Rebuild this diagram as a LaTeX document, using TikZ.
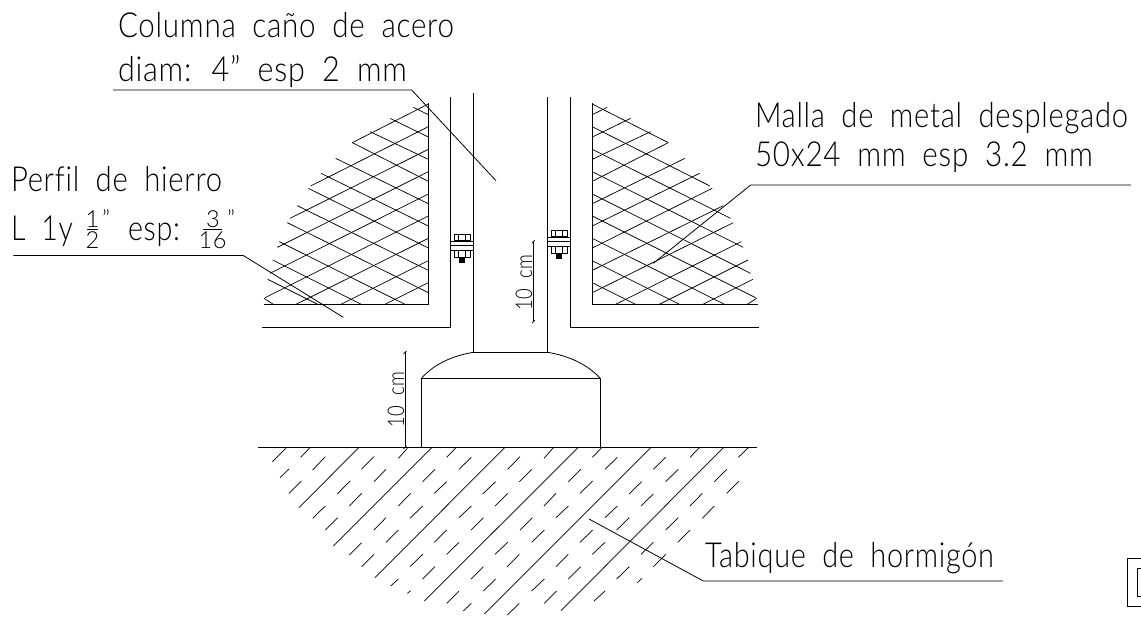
\documentclass[tikz,border=0pt]{standalone}
\usepackage{fontspec}
\usepackage{graphicx}
\newfontfamily\cadfont[LetterSpace=2.5,WordSpace=1.9,Ligatures=NoCommon]{Lato Light}
\newcommand{\cadfit}[2]{\resizebox{#1pt}{\height}{#2}}
\tikzset{
  ink/.style={line width=0.8pt,black,line cap=butt,line join=miter},
  thinink/.style={line width=0.72pt,black},
  cadtext/.style={anchor=base west,inner sep=0pt,outer sep=0pt,font=\cadfont\fontsize{34.5}{34.5}\selectfont},
  cadsmall/.style={anchor=base,inner sep=0pt,outer sep=0pt,font=\cadfont\fontsize{23.5}{24}\selectfont},
  dimtext/.style={anchor=base,inner sep=0pt,outer sep=0pt,rotate=90,font=\cadfont\fontsize{23}{23}\selectfont},
}
\newcommand{\cadbolt}[2]{%
  \begin{scope}[shift={(#1,#2)},ink]
    \draw (-8,-7.2) rectangle (8,-1);
    \draw (-3.5,-7.2) -- (-3.5,-1) (3.5,-7.2) -- (3.5,-1);
    \draw (-11.5,0) rectangle (11.5,4.2);
    \draw (-11.5,8.5) -- (11.5,8.5);
    \draw (-11.5,4.2) -- (-11.5,8.5) (11.5,4.2) -- (11.5,8.5);
    \draw (-8,8.5) rectangle (8,16.2);
    \draw (-3.5,8.5) -- (-3.5,16.2) (3.5,8.5) -- (3.5,16.2);
    \fill (-3,16.2) rectangle (3,21.5);
  \end{scope}}
\newcommand{\cadmesh}{%
  \foreach \xa/\ya/\xb/\yb in {
    520/52/565/74, 450/85/565/141, 390/125/565/208, 337/158/565/274,
    287/205/565/341, 243/250/565/408, 205/295/565/474, 172/347/565/541,
    142/398/565/608, 118/455/495/643, 98/510/364/643, 83/568/233/643, 72/625/100/643,
    337/158/565/42, 212/288/565/110, 150/385/565/178, 112/472/565/245,
    90/550/565/312, 75/623/565/378, 168/643/565/445, 303/643/565/512, 435/643/565/578}
    {\draw[thinink] (240+\xa/3,90+\ya/3) -- (240+\xb/3,90+\yb/3);}}
\begin{document}
\begin{tikzpicture}[x=1pt,y=-1pt]
\useasboundingbox (0,0) rectangle (1141,619);
\fill[white] (0,0) rectangle (1141,619);

% mesh, left and mirrored right
\cadmesh
\begin{scope}[xshift=1020.6pt,xscale=-1]
  \cadmesh
\end{scope}

% frames
\draw[ink] (428.3,103) -- (428.3,304) -- (264,304);
\draw[ink] (592.3,103) -- (592.3,304) -- (758,304);
\draw[ink] (450.7,97) -- (450.7,327) -- (262,327);
\draw[ink] (570.3,97) -- (570.3,327) -- (759,327);

% column and base
\draw[ink] (473.3,93) -- (473.3,352.3) -- (547.7,352.3) -- (547.7,97);
\draw[ink] (473.3,352.3) .. controls (452,356) and (434,364) .. (421,378.7);
\draw[ink] (547.7,352.3) .. controls (569,356) and (587,364) .. (600.7,378.7);
\draw[ink] (421,447.3) -- (421,378.7) -- (600.7,378.7) -- (600.7,447.3);
\draw[ink] (258.3,447.3) -- (756.7,447.3);

% bolts
\cadbolt{462.2}{241.5}
\cadbolt{559.2}{237.5}

% dimensions
\draw[thinink] (405,352.3) -- (405,447.3);
\draw[thinink] (403.5,353.8) -- (406.5,350.8) (403.5,448.8) -- (406.5,445.8);
\draw[thinink] (533.3,241.7) -- (533.3,321.7);
\draw[thinink] (531.8,243.2) -- (534.8,240.2) (531.8,323.2) -- (534.8,320.2);
\node[dimtext] (dima) at (404,399.5) {\cadfit{56}{10 cm}};
\node[dimtext] (dimb) at (532,282.5) {\cadfit{56}{10 cm}};

% hatch
\foreach \xa/\ya/\xb/\yb in {
  147/233/327/52, 250/348/546/52, 375/443/765/52, 523/513/985/52, 703/552/1203/52, 933/542/1421/52,
  67/95/107/55, 152/82/180/53, 188/120/226/80, 90/143/117/117, 117/190/154/153,
  262/192/300/153, 335/117/372/80, 372/155/408/118, 298/228/335/190, 188/265/226/228,
  226/300/263/263, 372/300/408/263, 445/228/482/190, 480/265/518/228, 408/337/445/300,
  298/375/335/338, 335/410/372/373, 480/410/518/373, 518/447/555/410, 422/468/445/447,
  472/490/482/482, 445/85/472/55, 518/155/555/118, 553/190/590/155, 590/82/618/53,
  627/118/664/82, 698/192/737/155, 735/228/773/190, 627/263/664/228, 663/300/700/263,
  553/337/590/300, 590/373/627/337, 663/447/700/410, 700/483/737/447, 590/520/627/483,
  735/373/773/337, 772/410/808/373, 845/483/883/447, 810/300/847/263, 845/337/883/300,
  918/410/955/373, 955/447/992/410, 883/520/920/483, 772/555/808/520, 640/543/664/520,
  773/118/810/80, 808/155/845/118, 882/85/910/53, 955/155/992/118, 990/190/1028/153,
  882/228/918/190, 918/263/955/228, 990/337/1028/300, 1027/373/1065/337, 1100/447/1138/410,
  1162/458/1175/445, 1032/513/1065/483, 1027/82/1055/53, 1065/118/1102/82, 1137/192/1175/155,
  1173/228/1210/192, 1065/263/1102/228, 1100/300/1138/263, 1173/373/1210/337, 1210/410/1247/373,
  1210/118/1247/82, 1247/155/1285/118, 1320/82/1348/53, 1393/155/1430/118, 1430/190/1467/153,
  1320/228/1357/190, 1357/265/1393/228, 1247/300/1285/263, 1283/337/1320/300, 1465/82/1495/53}
  {\draw[thinink] (250+\xa/3,430+\ya/3) -- (250+\xb/3,430+\yb/3);}

% leaders
\draw[ink] (113,90) -- (411.7,90) -- (496,180.7);
\draw[ink] (13.3,255.5) -- (243.3,255.5) -- (343.3,317.3);
\draw[ink] (1131,185) -- (750.7,185) -- (653.3,263.3);
\draw[ink] (1003,581) -- (703.3,581) -- (589,519);

% stamp at the corner
\draw[ink] (1141,606) -- (1127.3,606) -- (1127.3,558) -- (1141,558);
\draw[ink] (1141,568) -- (1137.3,568) -- (1137.3,596.7) -- (1141,596.7);

% labels
\node[cadtext] (ta) at (118,37.3) {\cadfit{336}{Columna caño de acero}};
\node[cadtext] (tb) at (118,81.7) {\cadfit{289}{diam: 4” esp 2 mm}};
\node[cadtext] (tc) at (755,127.3) {\cadfit{373}{Malla de metal desplegado}};
\node[cadtext] (td) at (755,166.7) {\cadfit{338}{50x24 mm esp 3.2 mm}};
\node[cadtext] (te) at (11,191.7) {\cadfit{211}{Perfil de hierro}};
\node[cadtext] (tf) at (11,240) {\cadfit{62}{L 1y}};
\node[cadsmall] (fa) at (92.5,227) {1};
\node[cadsmall] (fb) at (92.5,248.5) {2};
\draw[ink] (87,229) -- (98,229);
\node[cadsmall] (fc) at (106,227) {”};
\node[cadtext] (tg) at (128,240) {\cadfit{52}{esp:}};
\node[cadsmall] (fd) at (213,227) {3};
\node[cadsmall] (fe) at (212.5,248.5) {16};
\draw[ink] (203,229) -- (222,229);
\node[cadsmall] (ff) at (231,227) {”};
\node[cadtext] (th) at (705,567.3) {\cadfit{289}{Tabique de hormigón}};
\end{tikzpicture}
\end{document}
